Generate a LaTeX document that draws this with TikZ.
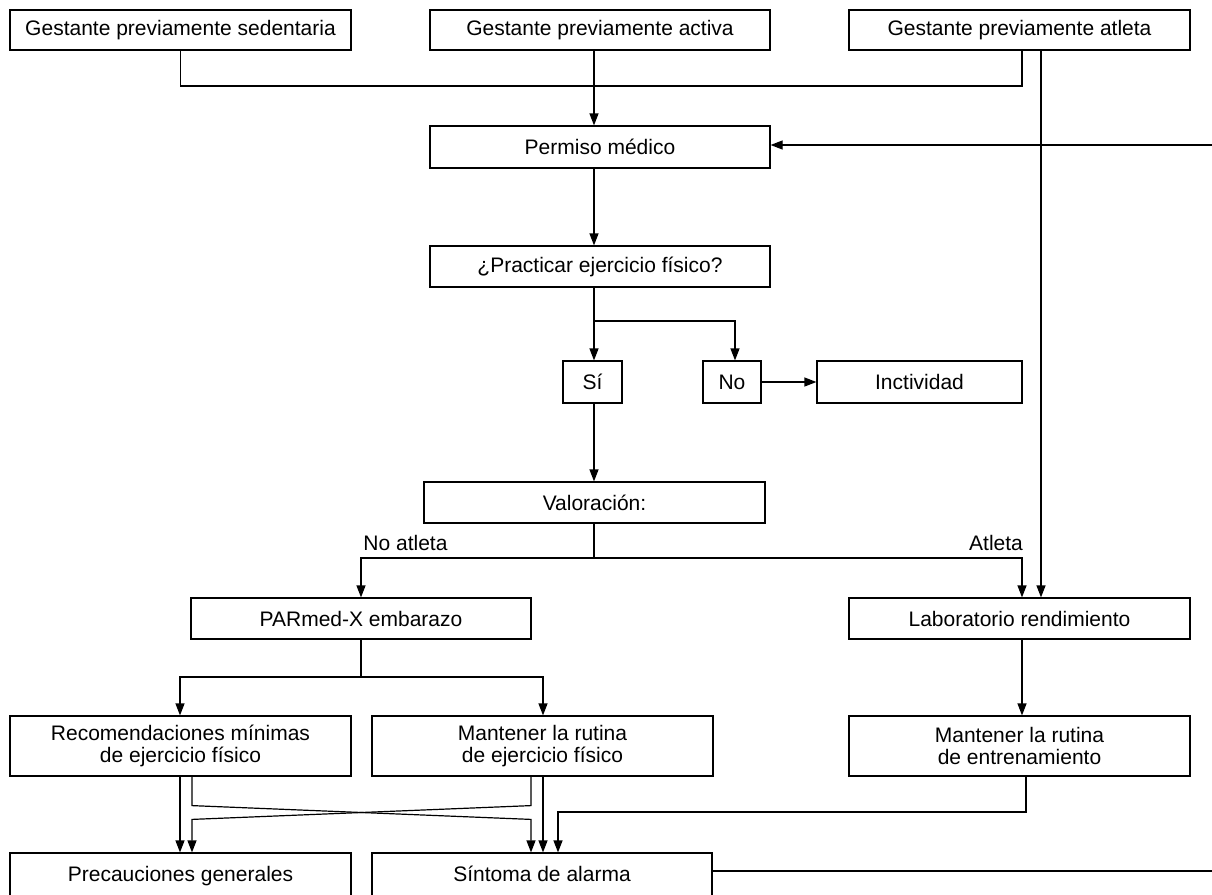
\documentclass[tikz,border=0pt]{standalone}
\usepackage{fontspec}
\setmainfont{Liberation Sans}
\usetikzlibrary{arrows.meta,calc}
\begin{document}
\begin{tikzpicture}[x=1pt,y=-1pt,
  box/.style={draw=black,line width=1.2pt,rectangle,inner sep=0pt,minimum height=41pt,
    font=\fontsize{21}{21.5}\selectfont,align=center},
  oneline/.style={text height=15pt,text depth=4.5pt},
  conn/.style={line width=1.2pt,draw=black},
  arr/.style={conn,-{Triangle[length=12pt,width=9pt]}},
  lbl/.style={font=\fontsize{21}{21.5}\selectfont,inner sep=0pt}]
\useasboundingbox (0,0) rectangle (1212,894);
% nodes
\node[box,minimum width=341pt,minimum height=40pt] (sed) at (180.5,30) {Gestante previamente sedentaria};
\node[box,minimum width=340pt,minimum height=40pt] (act) at (600,30) {Gestante previamente activa};
\node[box,minimum width=341pt,minimum height=40pt] (atl) at (1019.5,30) {Gestante previamente atleta};
\node[box,minimum width=340pt,minimum height=42pt] (perm) at (600,147) {Permiso médico};
\node[box,minimum width=340pt] (prac) at (600,266.5) {¿Practicar ejercicio físico?};
\node[box,minimum width=59pt,minimum height=42pt] (si) at (592.5,382) {Sí};
\node[box,minimum width=58pt,minimum height=42pt] (no) at (732,382) {No};
\node[box,minimum width=205pt,minimum height=42pt] (inct) at (919.5,382) {Inctividad};
\node[box,minimum width=341pt] (val) at (594.5,502.5) {Valoración:};
\node[box,minimum width=340pt] (parm) at (361,618.5) {PARmed-X embarazo};
\node[box,minimum width=341pt] (lab) at (1019.5,618.5) {Laboratorio rendimiento};
\node[box,minimum width=341pt,minimum height=60pt] (recom) at (180.5,746) {Recomendaciones mínimas\\de ejercicio físico};
\node[box,minimum width=341pt,minimum height=60pt] (mej) at (542.5,746) {Mantener la rutina\\de ejercicio físico};
\node[box,minimum width=341pt,minimum height=60pt] (ment) at (1019.5,746) {Mantener la rutina\\de entrenamiento};
\node[box,oneline,minimum width=341pt,minimum height=46pt] (prec) at (180.5,876) {Precauciones generales};
\node[box,oneline,minimum width=340pt,minimum height=46pt] (sint) at (542,876) {Síntoma de alarma};
\node[lbl] (nal) at (405.5,543) {No atleta};
\node[lbl] (atll) at (996,543) {Atleta};
% helper coordinates
\coordinate (j1) at (1022,86);
\coordinate (cA) at (594,0);
\coordinate (cB) at (1041,0);
\coordinate (b1) at (594,321);
\coordinate (cNo) at (735,0);
\coordinate (v1) at (594,558);
\coordinate (vR) at (1022,558);
\coordinate (p1) at (361,677);
\coordinate (pL) at (180,677);
\coordinate (pR) at (543,677);
\coordinate (c192) at (192,0);
\coordinate (c531) at (531,0);
\coordinate (k1) at (558,812);
\coordinate (c1026) at (1026,0);
\coordinate (f1) at (1240,871);
\coordinate (f2) at (1240,145);
% connectors
\draw[conn] (sed.south) |- (j1) -- (j1 |- atl.south);
\draw[arr] (act.south -| cA) -- (perm.north -| cA);
\draw[arr] (atl.south -| cB) -- (lab.north -| cB);
\draw[arr] (perm.south -| cA) -- (prac.north -| cA);
\draw[arr] (prac.south -| cA) -- (si.north -| cA);
\draw[arr] (b1) -| (no.north -| cNo);
\draw[arr] (no.east) -- (inct.west);
\draw[arr] (si.south -| cA) -- (val.north -| cA);
\draw[conn] (val.south -| cA) -- (v1);
\draw[arr] (v1) -| (parm.north);
\draw[arr] (v1) -| (lab.north -| vR);
\draw[conn] (parm.south) -- (p1);
\draw[arr] (p1) -| (recom.north -| pL);
\draw[arr] (p1) -| (mej.north -| pR);
\draw[arr] (lab.south -| vR) -- (ment.north -| vR);
\draw[arr] (recom.south -| pL) -- (prec.north -| pL);
\draw[arr] (recom.south -| c192) -- ++(0,29) -- ($(sint.north -| c531)+(0,-33)$) -- (sint.north -| c531);
\draw[arr] (mej.south -| c531) -- ++(0,29) -- ($(prec.north -| c192)+(0,-33)$) -- (prec.north -| c192);
\draw[arr] (mej.south -| pR) -- (sint.north -| pR);
\draw[arr] (ment.south -| c1026) |- (k1) -- (sint.north -| k1);
\draw[arr] (sint.east |- f1) -- (f1) -- (f2) -- (perm.east |- f2);
\end{tikzpicture}
\end{document}
